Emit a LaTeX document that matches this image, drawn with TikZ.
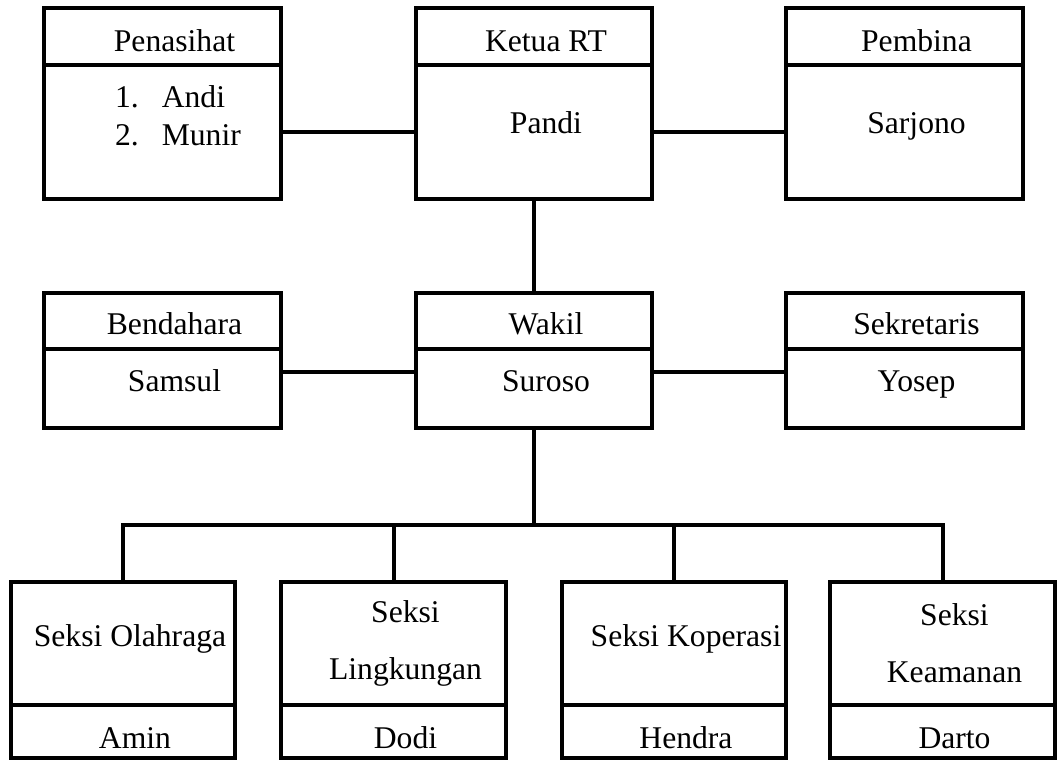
\documentclass[tikz,border=0pt]{standalone}
\usepackage{fontspec}
\setmainfont{Liberation Serif}
\begin{document}
\begin{tikzpicture}[x=0.02cm, y=-0.02cm]
	\tikzset{kotak/.style={draw, rectangle, line width=0.08cm, inner sep=0, outer sep=0, minimum width=4.74cm}, garis/.style={line width=0.08cm}, teks/.style={font=\fontsize{18}{21.6}\selectfont, inner sep=0, xshift=0.24cm}, satu/.style={teks, text height=12.6pt, text depth=3.6pt}, dua/.style={teks, align=center, font=\fontsize{18}{32.4}\selectfont}};

	\useasboundingbox (0,0) rectangle (1063,760);

	% baris atas
	\node[kotak, minimum height=1.14cm, label={[satu, yshift=-0.15cm]center:Penasihat}] (penasihatJ) at (162.5, 36.5) {};
	\node[kotak, minimum height=2.68cm, label={[teks, align=left, xshift=0.07cm, yshift=0.32cm]center:{1.\hspace{0.46cm}Andi\\2.\hspace{0.46cm}Munir}}] (penasihat) at (162.5,  132) {};
	\node[kotak, minimum height=1.14cm, label={[satu, yshift=-0.15cm]center:Ketua RT}] (ketuaJ) at (  534, 36.5) {};
	\node[kotak, minimum height=2.68cm, label={[satu, yshift=0.12cm]center:Pandi}] (ketua) at (  534,  132) {};
	\node[kotak, minimum height=1.14cm, label={[satu, yshift=-0.15cm]center:Pembina}] (pembinaJ) at (904.5, 36.5) {};
	\node[kotak, minimum height=2.68cm, label={[satu, yshift=0.12cm]center:Sarjono}] (pembina) at (904.5,  132) {};

	% baris tengah
	\node[kotak, minimum height=1.12cm, label={[satu, yshift=-0.12cm]center:Bendahara}] (bendaharaJ) at (162.5,   321) {};
	\node[kotak, minimum height=1.58cm, label={[satu, yshift=0.09cm]center:Samsul}] (bendahara) at (162.5, 388.5) {};
	\node[kotak, minimum height=1.12cm, label={[satu, yshift=-0.12cm]center:Wakil}] (wakilJ) at (  534,   321) {};
	\node[kotak, minimum height=1.58cm, label={[satu, yshift=0.09cm]center:Suroso}] (wakil) at (  534, 388.5) {};
	\node[kotak, minimum height=1.12cm, label={[satu, yshift=-0.12cm]center:Sekretaris}] (sekretarisJ) at (904.5,   321) {};
	\node[kotak, minimum height=1.58cm, label={[satu, yshift=0.09cm]center:Yosep}] (sekretaris) at (904.5, 388.5) {};

	% baris bawah
	\node[kotak, minimum width=4.5cm, minimum height=2.46cm, label={[satu, xshift=-0.1cm, yshift=0.09cm]center:Seksi Olahraga}] (olahragaJ) at (  123, 643.5) {};
	\node[kotak, minimum width=4.5cm, minimum height=1.06cm, label={[satu, yshift=-0.19cm]center:Amin}] (olahraga) at (  123, 731.5) {};
	\node[kotak, minimum width=4.5cm, minimum height=2.46cm, label={[dua]center:{Seksi\\Lingkungan}}] (lingkunganJ) at (393.5, 643.5) {};
	\node[kotak, minimum width=4.5cm, minimum height=1.06cm, label={[satu, yshift=-0.19cm]center:Dodi}] (lingkungan) at (393.5, 731.5) {};
	\node[kotak, minimum width=4.5cm, minimum height=2.46cm, label={[satu, yshift=0.09cm]center:Seksi Koperasi}] (koperasiJ) at (  674, 643.5) {};
	\node[kotak, minimum width=4.5cm, minimum height=1.06cm, label={[satu, yshift=-0.19cm]center:Hendra}] (koperasi) at (  674, 731.5) {};
	\node[kotak, minimum width=4.5cm, minimum height=2.46cm, label={[dua]center:{Seksi\\Keamanan}}] (keamananJ) at (942.5, 643.5) {};
	\node[kotak, minimum width=4.5cm, minimum height=1.06cm, label={[satu, yshift=-0.19cm]center:Darto}] (keamanan) at (942.5, 731.5) {};

	\coordinate (cabang) at (534,525);

	\draw[garis] (penasihat.east) -- (ketua.west);
	\draw[garis] (ketua.east) -- (pembina.west);
	\draw[garis] (ketua.south) -- (wakilJ.north);
	\draw[garis] ([yshift=0.33cm]bendahara.east) -- ([yshift=0.33cm]wakil.west);
	\draw[garis] ([yshift=0.33cm]wakil.east) -- ([yshift=0.33cm]sekretaris.west);
	\draw[garis] (wakil.south) -- (cabang);
	\draw[garis] (olahragaJ.north) |- (cabang) -| (keamananJ.north);
	\draw[garis] (lingkunganJ.north) -- (lingkunganJ.north |- cabang);
	\draw[garis] (koperasiJ.north) -- (koperasiJ.north |- cabang);
\end{tikzpicture}
\end{document}
